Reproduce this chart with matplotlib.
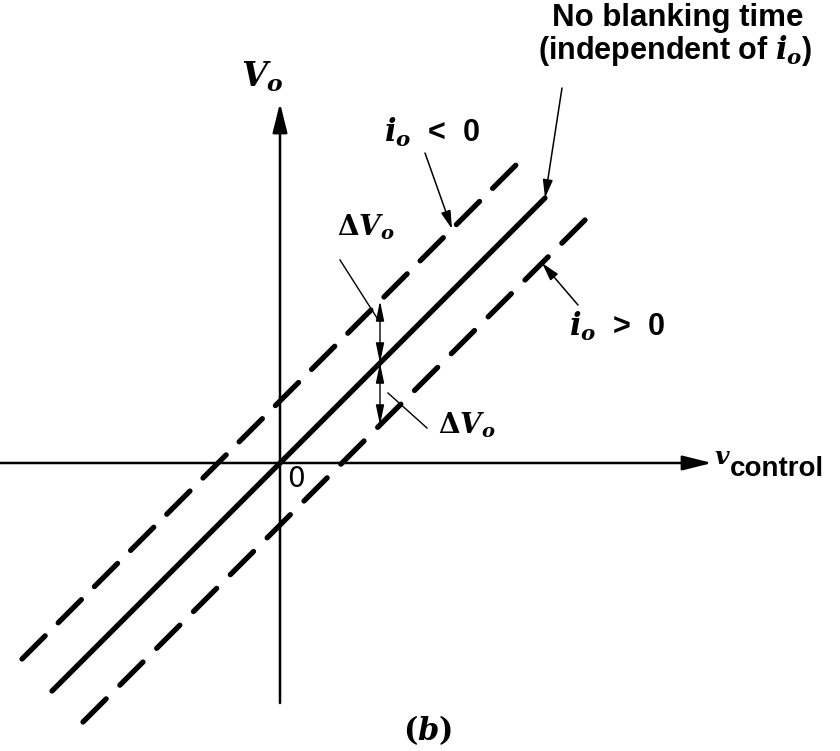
import matplotlib.pyplot as plt

plt.rcParams['mathtext.fontset'] = 'custom'
plt.rcParams['mathtext.it'] = 'DejaVu Serif:italic:bold'
plt.rcParams['mathtext.rm'] = 'DejaVu Serif:bold'
plt.rcParams['mathtext.bf'] = 'DejaVu Serif:bold'

# v_control ranges of the three characteristics and the blanking-time step
ctrl_ideal = [-228, 265]
ctrl_neg = [-258, 237]   # i_o < 0 : V_o raised by dV
ctrl_pos = [-197, 305]   # i_o > 0 : V_o lowered by dV
dV = 62
v_dim = 100              # where the dV dimension arrows sit

x_axis = [-280, 432]
y_axis = [-240, 360]

fig = plt.figure(figsize=(8.4, 7.51), dpi=100)
ax = fig.add_axes([0, 0, 1, 1])
ax.set_xlim(-280, 560)
ax.set_ylim(-288, 463)
ax.axis('off')

def line_v(ctrl, off):
    return [c + off for c in ctrl]

def arrow(tip, tail, lw=1.1, hl=1.1, hw=0.3, style='-|>'):
    ax.annotate('', xy=tip, xytext=tail,
                arrowprops=dict(arrowstyle=f'{style},head_length={hl},head_width={hw}',
                                lw=lw, color='black', shrinkA=0, shrinkB=0))

# axes with arrow heads
arrow((x_axis[1], 0), (x_axis[0], 0), lw=1.8, hl=1.8, hw=0.45)
arrow((0, y_axis[1]), (0, y_axis[0]), lw=1.8, hl=1.8, hw=0.45)

# characteristics (gaps tuned so each dashed line ends on a full dash)
ax.plot(ctrl_ideal, line_v(ctrl_ideal, 0), color='black', lw=3.8,
        solid_capstyle='round')
for ctrl, off, gap in [(ctrl_neg, dV, 3.5), (ctrl_pos, -dV, 3.67)]:
    ax.plot(ctrl, line_v(ctrl, off), color='black', lw=3.8,
            linestyle=(0, (6.2, gap)), dash_capstyle='round')

# dimension arrows for dV
arrow((v_dim, v_dim + dV), (v_dim, v_dim), lw=1.0, hl=1.2, hw=0.25, style='<|-|>')
arrow((v_dim, v_dim), (v_dim, v_dim - dV), lw=1.0, hl=1.2, hw=0.25, style='<|-|>')

# leaders
arrow((ctrl_ideal[1], ctrl_ideal[1]), (282, 375))
tip_neg = 172
arrow((tip_neg, tip_neg + dV), (145, 310))
tip_pos = 262
arrow((tip_pos, tip_pos - dV), (298, 158))
ax.plot([60, v_dim - 3], [203, v_dim + 45], color='black', lw=1.0)
ax.plot([147, v_dim + 8], [35, v_dim - 30], color='black', lw=1.0)

# labels
sans = dict(family='Liberation Sans', weight='bold', color='black')
ax.text(398, 445, 'No blanking time', fontsize=22.5, ha='center', va='center', **sans)
ax.text(395, 413, '(independent of $i_o$)', fontsize=22, ha='center', va='center', **sans)
ax.text(152, 331, '$i_o$  <  0', fontsize=22, ha='center', va='center', **sans)
ax.text(337, 137, '$i_o$  >  0', fontsize=22, ha='center', va='center', **sans)
ax.text(-18, 386, '$V_o$', fontsize=24, ha='center', va='center')
ax.text(86, 236, r'$\Delta V_o$', fontsize=20, ha='center', va='center')
ax.text(187, 38, r'$\Delta V_o$', fontsize=20, ha='center', va='center')
ax.text(16, -16, '0', fontsize=20, ha='center', va='center', family='DejaVu Sans')
ax.text(442, 6, '$v$', fontsize=18, ha='center', va='center')
ax.text(450, -6, 'control', fontsize=20, ha='left', va='center',
        family='Liberation Sans', weight='bold')
ax.text(148, -267, '$(b)$', fontsize=22, ha='center', va='center')

fig.savefig('out.png', dpi=100)
